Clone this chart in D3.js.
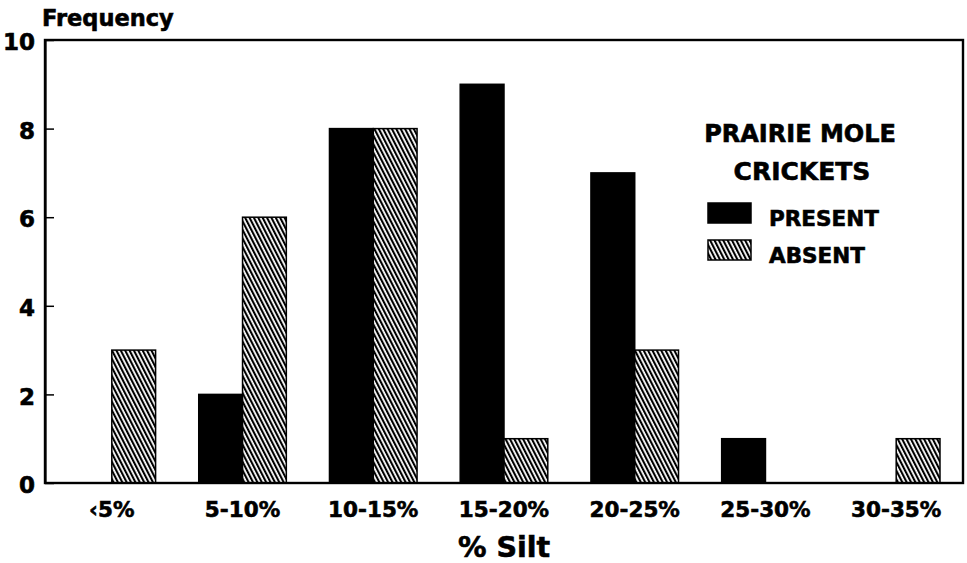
<!DOCTYPE html>
<html>
<head>
<meta charset="utf-8">
<script src="https://cdn.jsdelivr.net/npm/d3@7"></script>
<style>
  body { margin: 0; background: #fff; }
  text { font-family: "DejaVu Sans", sans-serif; font-weight: bold; fill: #000; stroke: #000; stroke-width: 0.6px; }
</style>
</head>
<body>
<div id="chart"></div>
<script>
// Data
const categories = ["‹5%", "5-10%", "10-15%", "15-20%", "20-25%", "25-30%", "30-35%"];
const present = [0, 2, 8, 9, 7, 1, 0];
const absent = [3, 6, 8, 1, 3, 0, 1];
const yTicks = [0, 2, 4, 6, 8, 10];
const seriesKeys = ["present", "absent"];
const legendLabels = ["PRESENT", "ABSENT"];

const width = 967, height = 563;
const margin = { top: 40, right: 4, bottom: 80, left: 45 };

const svg = d3.select("#chart").append("svg")
    .attr("width", width)
    .attr("height", height);

// hatch pattern for the "absent" bars
const defs = svg.append("defs");
const pat = defs.append("pattern")
    .attr("id", "hatch")
    .attr("patternUnits", "userSpaceOnUse")
    .attr("width", 3.9)
    .attr("height", 10)
    .attr("patternTransform", "rotate(-27)");
pat.append("rect")
    .attr("width", 3.9).attr("height", 10).attr("fill", "#fff");
pat.append("rect")
    .attr("x", 0).attr("width", 2.1).attr("height", 10).attr("fill", "#000");

const fills = { present: "#000", absent: "url(#hatch)" };

const x0 = d3.scaleBand()
    .domain(categories)
    .range([margin.left, width - margin.right])
    .paddingInner(0.33)
    .paddingOuter(0.176);

const x1 = d3.scaleBand()
    .domain(seriesKeys)
    .range([0, x0.bandwidth()]);

const y = d3.scaleLinear()
    .domain([0, 10])
    .range([height - margin.bottom, margin.top]);

// table for the grouped bars
const rows = categories.map((c, i) => ({ cat: c, present: present[i], absent: absent[i] }));

svg.append("g")
    .selectAll("g")
    .data(rows)
    .enter().append("g")
    .attr("transform", d => `translate(${x0(d.cat)},0)`)
    .selectAll("rect")
    .data(d => seriesKeys.map(k => ({ key: k, value: d[k] })).filter(e => e.value > 0))
    .enter().append("rect")
    .attr("x", d => x1(d.key))
    .attr("y", d => y(d.value))
    .attr("width", x1.bandwidth())
    .attr("height", d => y(0) - y(d.value))
    .attr("fill", d => fills[d.key])
    .attr("stroke", "#000")
    .attr("stroke-width", 1.5);

// frame
svg.append("rect")
    .attr("x", margin.left)
    .attr("y", margin.top)
    .attr("width", width - margin.right - margin.left)
    .attr("height", height - margin.bottom - margin.top)
    .attr("fill", "none")
    .attr("stroke", "#000")
    .attr("stroke-width", 2.4);

// y axis, ticks pointing inward
const yAxis = svg.append("g")
    .attr("transform", `translate(${margin.left},0)`)
    .call(d3.axisLeft(y).tickValues(yTicks).tickSizeInner(-9).tickSizeOuter(0).tickPadding(10));
yAxis.select(".domain").attr("stroke-width", 2.2);
yAxis.selectAll(".tick line").attr("stroke-width", 1.5);
yAxis.selectAll(".tick text")
    .attr("font-size", 23)
    .attr("dy", "0.42em")
    .attr("font-family", "DejaVu Sans");

// x axis labels
const xAxis = svg.append("g")
    .attr("transform", `translate(0,${height - margin.bottom})`)
    .call(d3.axisBottom(x0).tickSize(0).tickPadding(19));
xAxis.select(".domain").remove();
xAxis.selectAll(".tick text")
    .attr("font-size", 21.5)
    .attr("font-family", "DejaVu Sans");

// axis titles
svg.append("text")
    .attr("x", 42)
    .attr("y", 26)
    .attr("font-size", 22.5)
    .text("Frequency");

svg.append("text")
    .attr("x", (margin.left + width - margin.right) / 2)
    .attr("y", 557)
    .attr("text-anchor", "middle")
    .attr("font-size", 28.5)
    .text("% Silt");

// legend
const legend = svg.append("g");
legend.append("text")
    .attr("x", 800).attr("y", 142)
    .attr("text-anchor", "middle")
    .attr("font-size", 24)
    .text("PRAIRIE MOLE");
legend.append("text")
    .attr("x", 802).attr("y", 180)
    .attr("text-anchor", "middle")
    .attr("font-size", 25)
    .text("CRICKETS");

seriesKeys.forEach((k, i) => {
    legend.append("rect")
        .attr("x", 708)
        .attr("y", 203 + i * 37)
        .attr("width", 43)
        .attr("height", 20)
        .attr("fill", fills[k])
        .attr("stroke", "#000")
        .attr("stroke-width", 1.5);
    legend.append("text")
        .attr("x", 769)
        .attr("y", 226 + i * 37)
        .attr("font-size", 21.5)
        .text(legendLabels[i]);
});
</script>
</body>
</html>
